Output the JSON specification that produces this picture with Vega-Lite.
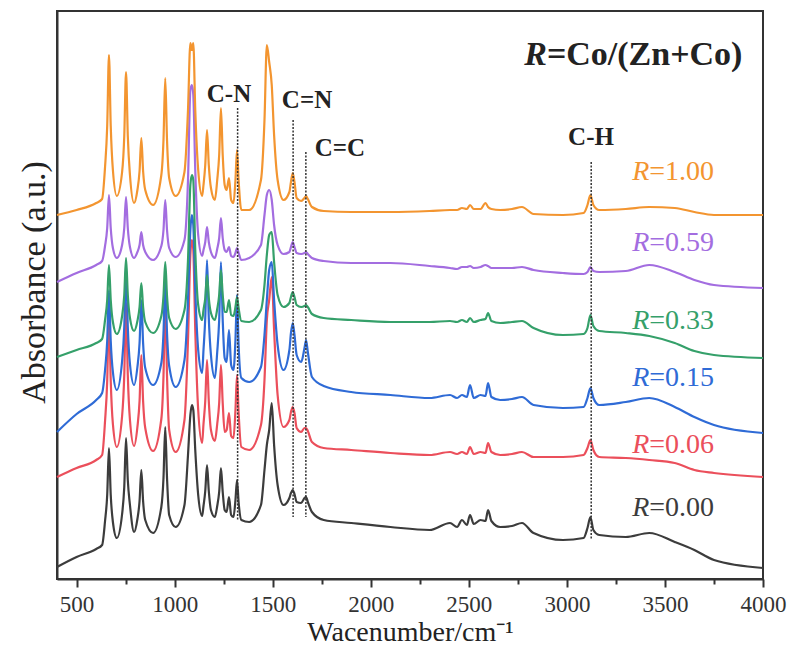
{
"$schema":"https://vega.github.io/schema/vega-lite/v6.json",
"width":706,"height":568,
"autosize":{"type":"none"},
"padding":{"left":57,"top":11,"right":28,"bottom":78},
"background":"white",
"config":{
"view":{"stroke":"#333333","strokeWidth":2},
"font":"Liberation Serif",
"axis":{"labelFont":"Liberation Serif","titleFont":"Liberation Serif","grid":false,"domainColor":"#333333","domainWidth":2,"tickColor":"#333333","tickWidth":2,"labelColor":"#333333","titleColor":"#222222","titleFontWeight":"normal"},
"text":{"font":"Liberation Serif"}
},
"datasets":{
"spectra":[
{"r":"0.00","wn":400,"ab":12},{"r":"0.00","wn":500,"ab":22},{"r":"0.00","wn":600,"ab":30},{"r":"0.00","wn":630,"ab":34},{"r":"0.00","wn":645,"ab":58},{"r":"0.00","wn":656,"ab":84},{"r":"0.00","wn":665,"ab":131},{"r":"0.00","wn":674,"ab":84},{"r":"0.00","wn":685,"ab":57},{"r":"0.00","wn":705,"ab":41},
{"r":"0.00","wn":732,"ab":65},{"r":"0.00","wn":743,"ab":92},{"r":"0.00","wn":752,"ab":141},{"r":"0.00","wn":761,"ab":99},{"r":"0.00","wn":772,"ab":74},{"r":"0.00","wn":793,"ab":47},{"r":"0.00","wn":810,"ab":60},{"r":"0.00","wn":821,"ab":78},{"r":"0.00","wn":830,"ab":109},{"r":"0.00","wn":839,"ab":78},
{"r":"0.00","wn":850,"ab":59},{"r":"0.00","wn":890,"ab":46},{"r":"0.00","wn":932,"ab":72},{"r":"0.00","wn":943,"ab":101},{"r":"0.00","wn":952,"ab":152},{"r":"0.00","wn":961,"ab":101},{"r":"0.00","wn":972,"ab":64},{"r":"0.00","wn":1005,"ab":52},{"r":"0.00","wn":1050,"ab":74},{"r":"0.00","wn":1068,"ab":124},
{"r":"0.00","wn":1080,"ab":164},{"r":"0.00","wn":1088,"ab":174},{"r":"0.00","wn":1095,"ab":169},{"r":"0.00","wn":1105,"ab":129},{"r":"0.00","wn":1120,"ab":84},{"r":"0.00","wn":1140,"ab":63},{"r":"0.00","wn":1147,"ab":73},{"r":"0.00","wn":1156,"ab":88},{"r":"0.00","wn":1165,"ab":114},{"r":"0.00","wn":1174,"ab":88},
{"r":"0.00","wn":1185,"ab":69},{"r":"0.00","wn":1205,"ab":62},{"r":"0.00","wn":1217,"ab":73},{"r":"0.00","wn":1227,"ab":87},{"r":"0.00","wn":1236,"ab":111},{"r":"0.00","wn":1245,"ab":87},{"r":"0.00","wn":1255,"ab":69},{"r":"0.00","wn":1265,"ab":67},{"r":"0.00","wn":1277,"ab":82},{"r":"0.00","wn":1288,"ab":64},
{"r":"0.00","wn":1300,"ab":62},{"r":"0.00","wn":1310,"ab":79},{"r":"0.00","wn":1318,"ab":99},{"r":"0.00","wn":1326,"ab":77},{"r":"0.00","wn":1340,"ab":59},{"r":"0.00","wn":1380,"ab":57},{"r":"0.00","wn":1440,"ab":74},{"r":"0.00","wn":1458,"ab":109},{"r":"0.00","wn":1470,"ab":134},{"r":"0.00","wn":1482,"ab":149},
{"r":"0.00","wn":1495,"ab":176},{"r":"0.00","wn":1507,"ab":134},{"r":"0.00","wn":1525,"ab":94},{"r":"0.00","wn":1555,"ab":74},{"r":"0.00","wn":1585,"ab":81},{"r":"0.00","wn":1593,"ab":86},{"r":"0.00","wn":1602,"ab":89},{"r":"0.00","wn":1611,"ab":85},{"r":"0.00","wn":1622,"ab":77},{"r":"0.00","wn":1645,"ab":76},
{"r":"0.00","wn":1662,"ab":81},{"r":"0.00","wn":1670,"ab":82},{"r":"0.00","wn":1679,"ab":77},{"r":"0.00","wn":1700,"ab":67},{"r":"0.00","wn":1760,"ab":59},{"r":"0.00","wn":1900,"ab":56},{"r":"0.00","wn":2100,"ab":52},
{"r":"0.00","wn":2300,"ab":49},{"r":"0.00","wn":2404,"ab":56},{"r":"0.00","wn":2440,"ab":52},{"r":"0.00","wn":2465,"ab":59},{"r":"0.00","wn":2490,"ab":54},{"r":"0.00","wn":2506,"ab":64},{"r":"0.00","wn":2525,"ab":55},{"r":"0.00","wn":2560,"ab":59},{"r":"0.00","wn":2585,"ab":58},{"r":"0.00","wn":2598,"ab":69},{"r":"0.00","wn":2615,"ab":58},{"r":"0.00","wn":2660,"ab":52},{"r":"0.00","wn":2720,"ab":53},{"r":"0.00","wn":2771,"ab":56},{"r":"0.00","wn":2830,"ab":46},
{"r":"0.00","wn":2980,"ab":39},{"r":"0.00","wn":3085,"ab":41},{"r":"0.00","wn":3105,"ab":51},{"r":"0.00","wn":3120,"ab":62},{"r":"0.00","wn":3135,"ab":49},{"r":"0.00","wn":3165,"ab":44},{"r":"0.00","wn":3300,"ab":42},{"r":"0.00","wn":3420,"ab":46},{"r":"0.00","wn":3550,"ab":37},{"r":"0.00","wn":3650,"ab":29},{"r":"0.00","wn":3750,"ab":19},{"r":"0.00","wn":4000,"ab":11},

{"r":"0.06","wn":400,"ab":102},{"r":"0.06","wn":500,"ab":111},{"r":"0.06","wn":600,"ab":119},{"r":"0.06","wn":630,"ab":124},{"r":"0.06","wn":645,"ab":158},{"r":"0.06","wn":656,"ab":198},{"r":"0.06","wn":665,"ab":269},{"r":"0.06","wn":674,"ab":198},{"r":"0.06","wn":685,"ab":155},{"r":"0.06","wn":705,"ab":132},
{"r":"0.06","wn":732,"ab":163},{"r":"0.06","wn":743,"ab":204},{"r":"0.06","wn":752,"ab":276},{"r":"0.06","wn":761,"ab":204},{"r":"0.06","wn":772,"ab":159},{"r":"0.06","wn":793,"ab":133},{"r":"0.06","wn":810,"ab":152},{"r":"0.06","wn":821,"ab":178},{"r":"0.06","wn":830,"ab":224},{"r":"0.06","wn":839,"ab":178},
{"r":"0.06","wn":850,"ab":151},{"r":"0.06","wn":890,"ab":128},{"r":"0.06","wn":932,"ab":160},{"r":"0.06","wn":943,"ab":203},{"r":"0.06","wn":952,"ab":279},{"r":"0.06","wn":961,"ab":203},{"r":"0.06","wn":972,"ab":149},{"r":"0.06","wn":1005,"ab":127},{"r":"0.06","wn":1050,"ab":159},{"r":"0.06","wn":1068,"ab":239},
{"r":"0.06","wn":1080,"ab":324},{"r":"0.06","wn":1088,"ab":339},{"r":"0.06","wn":1095,"ab":329},{"r":"0.06","wn":1105,"ab":249},{"r":"0.06","wn":1120,"ab":169},{"r":"0.06","wn":1140,"ab":136},{"r":"0.06","wn":1147,"ab":155},{"r":"0.06","wn":1156,"ab":178},{"r":"0.06","wn":1165,"ab":219},{"r":"0.06","wn":1174,"ab":178},
{"r":"0.06","wn":1185,"ab":149},{"r":"0.06","wn":1205,"ab":138},{"r":"0.06","wn":1217,"ab":155},{"r":"0.06","wn":1227,"ab":176},{"r":"0.06","wn":1236,"ab":214},{"r":"0.06","wn":1245,"ab":176},{"r":"0.06","wn":1255,"ab":147},{"r":"0.06","wn":1265,"ab":149},{"r":"0.06","wn":1277,"ab":166},{"r":"0.06","wn":1288,"ab":143},
{"r":"0.06","wn":1300,"ab":141},{"r":"0.06","wn":1310,"ab":169},{"r":"0.06","wn":1318,"ab":204},{"r":"0.06","wn":1326,"ab":167},{"r":"0.06","wn":1340,"ab":132},{"r":"0.06","wn":1380,"ab":129},{"r":"0.06","wn":1440,"ab":154},{"r":"0.06","wn":1458,"ab":199},{"r":"0.06","wn":1470,"ab":259},{"r":"0.06","wn":1482,"ab":279},
{"r":"0.06","wn":1495,"ab":302},{"r":"0.06","wn":1507,"ab":249},{"r":"0.06","wn":1525,"ab":184},{"r":"0.06","wn":1555,"ab":152},{"r":"0.06","wn":1585,"ab":159},{"r":"0.06","wn":1593,"ab":167},{"r":"0.06","wn":1602,"ab":172},{"r":"0.06","wn":1611,"ab":166},{"r":"0.06","wn":1622,"ab":151},{"r":"0.06","wn":1645,"ab":147},
{"r":"0.06","wn":1662,"ab":151},{"r":"0.06","wn":1670,"ab":151},{"r":"0.06","wn":1679,"ab":148},{"r":"0.06","wn":1700,"ab":137},{"r":"0.06","wn":1760,"ab":131},{"r":"0.06","wn":1900,"ab":129},{"r":"0.06","wn":2100,"ab":126},
{"r":"0.06","wn":2300,"ab":124},{"r":"0.06","wn":2404,"ab":127},{"r":"0.06","wn":2440,"ab":125},{"r":"0.06","wn":2465,"ab":127},{"r":"0.06","wn":2490,"ab":125},{"r":"0.06","wn":2506,"ab":132},{"r":"0.06","wn":2525,"ab":125},{"r":"0.06","wn":2560,"ab":127},{"r":"0.06","wn":2585,"ab":126},{"r":"0.06","wn":2598,"ab":136},{"r":"0.06","wn":2615,"ab":127},{"r":"0.06","wn":2660,"ab":124},{"r":"0.06","wn":2720,"ab":125},{"r":"0.06","wn":2771,"ab":127},{"r":"0.06","wn":2830,"ab":122},
{"r":"0.06","wn":2980,"ab":122},{"r":"0.06","wn":3085,"ab":124},{"r":"0.06","wn":3105,"ab":131},{"r":"0.06","wn":3120,"ab":139},{"r":"0.06","wn":3135,"ab":129},{"r":"0.06","wn":3165,"ab":122},{"r":"0.06","wn":3300,"ab":121},{"r":"0.06","wn":3420,"ab":119},{"r":"0.06","wn":3550,"ab":116},{"r":"0.06","wn":3650,"ab":109},{"r":"0.06","wn":3750,"ab":106},{"r":"0.06","wn":4000,"ab":102},

{"r":"0.15","wn":400,"ab":147},{"r":"0.15","wn":500,"ab":165},{"r":"0.15","wn":600,"ab":179},{"r":"0.15","wn":630,"ab":186},{"r":"0.15","wn":645,"ab":209},{"r":"0.15","wn":656,"ab":238},{"r":"0.15","wn":665,"ab":289},{"r":"0.15","wn":674,"ab":238},{"r":"0.15","wn":685,"ab":207},{"r":"0.15","wn":705,"ab":189},
{"r":"0.15","wn":732,"ab":218},{"r":"0.15","wn":743,"ab":252},{"r":"0.15","wn":752,"ab":314},{"r":"0.15","wn":761,"ab":252},{"r":"0.15","wn":772,"ab":215},{"r":"0.15","wn":793,"ab":194},{"r":"0.15","wn":810,"ab":212},{"r":"0.15","wn":821,"ab":236},{"r":"0.15","wn":830,"ab":279},{"r":"0.15","wn":839,"ab":236},
{"r":"0.15","wn":850,"ab":211},{"r":"0.15","wn":890,"ab":194},{"r":"0.15","wn":932,"ab":216},{"r":"0.15","wn":943,"ab":246},{"r":"0.15","wn":952,"ab":299},{"r":"0.15","wn":961,"ab":246},{"r":"0.15","wn":972,"ab":213},{"r":"0.15","wn":1005,"ab":192},{"r":"0.15","wn":1050,"ab":219},{"r":"0.15","wn":1068,"ab":279},
{"r":"0.15","wn":1080,"ab":349},{"r":"0.15","wn":1088,"ab":364},{"r":"0.15","wn":1095,"ab":354},{"r":"0.15","wn":1105,"ab":289},{"r":"0.15","wn":1120,"ab":229},{"r":"0.15","wn":1140,"ab":206},{"r":"0.15","wn":1147,"ab":229},{"r":"0.15","wn":1156,"ab":261},{"r":"0.15","wn":1165,"ab":319},{"r":"0.15","wn":1174,"ab":261},
{"r":"0.15","wn":1185,"ab":224},{"r":"0.15","wn":1205,"ab":201},{"r":"0.15","wn":1217,"ab":227},{"r":"0.15","wn":1227,"ab":259},{"r":"0.15","wn":1236,"ab":317},{"r":"0.15","wn":1245,"ab":259},{"r":"0.15","wn":1255,"ab":221},{"r":"0.15","wn":1265,"ab":217},{"r":"0.15","wn":1277,"ab":249},{"r":"0.15","wn":1288,"ab":214},
{"r":"0.15","wn":1300,"ab":209},{"r":"0.15","wn":1310,"ab":239},{"r":"0.15","wn":1318,"ab":284},{"r":"0.15","wn":1326,"ab":234},{"r":"0.15","wn":1340,"ab":201},{"r":"0.15","wn":1380,"ab":197},{"r":"0.15","wn":1440,"ab":212},{"r":"0.15","wn":1458,"ab":244},{"r":"0.15","wn":1470,"ab":279},{"r":"0.15","wn":1482,"ab":309},
{"r":"0.15","wn":1495,"ab":317},{"r":"0.15","wn":1507,"ab":279},{"r":"0.15","wn":1525,"ab":234},{"r":"0.15","wn":1555,"ab":209},{"r":"0.15","wn":1585,"ab":229},{"r":"0.15","wn":1593,"ab":246},{"r":"0.15","wn":1602,"ab":256},{"r":"0.15","wn":1611,"ab":244},{"r":"0.15","wn":1622,"ab":224},{"r":"0.15","wn":1645,"ab":217},
{"r":"0.15","wn":1662,"ab":231},{"r":"0.15","wn":1670,"ab":239},{"r":"0.15","wn":1679,"ab":227},{"r":"0.15","wn":1700,"ab":202},{"r":"0.15","wn":1760,"ab":193},{"r":"0.15","wn":1900,"ab":187},{"r":"0.15","wn":2100,"ab":184},
{"r":"0.15","wn":2300,"ab":181},{"r":"0.15","wn":2404,"ab":184},{"r":"0.15","wn":2440,"ab":181},{"r":"0.15","wn":2465,"ab":184},{"r":"0.15","wn":2490,"ab":182},{"r":"0.15","wn":2506,"ab":194},{"r":"0.15","wn":2525,"ab":181},{"r":"0.15","wn":2560,"ab":184},{"r":"0.15","wn":2585,"ab":183},{"r":"0.15","wn":2598,"ab":196},{"r":"0.15","wn":2615,"ab":182},{"r":"0.15","wn":2660,"ab":179},{"r":"0.15","wn":2720,"ab":180},{"r":"0.15","wn":2771,"ab":182},{"r":"0.15","wn":2830,"ab":174},
{"r":"0.15","wn":2980,"ab":171},{"r":"0.15","wn":3085,"ab":172},{"r":"0.15","wn":3105,"ab":181},{"r":"0.15","wn":3120,"ab":191},{"r":"0.15","wn":3135,"ab":181},{"r":"0.15","wn":3165,"ab":174},{"r":"0.15","wn":3300,"ab":177},{"r":"0.15","wn":3420,"ab":181},{"r":"0.15","wn":3550,"ab":172},{"r":"0.15","wn":3650,"ab":162},{"r":"0.15","wn":3750,"ab":154},{"r":"0.15","wn":4000,"ab":146},

{"r":"0.33","wn":400,"ab":222},{"r":"0.33","wn":500,"ab":229},{"r":"0.33","wn":600,"ab":236},{"r":"0.33","wn":630,"ab":240},{"r":"0.33","wn":645,"ab":259},{"r":"0.33","wn":656,"ab":279},{"r":"0.33","wn":665,"ab":314},{"r":"0.33","wn":674,"ab":279},{"r":"0.33","wn":685,"ab":257},{"r":"0.33","wn":705,"ab":245},
{"r":"0.33","wn":732,"ab":263},{"r":"0.33","wn":743,"ab":284},{"r":"0.33","wn":752,"ab":321},{"r":"0.33","wn":761,"ab":284},{"r":"0.33","wn":772,"ab":261},{"r":"0.33","wn":793,"ab":248},{"r":"0.33","wn":810,"ab":258},{"r":"0.33","wn":821,"ab":272},{"r":"0.33","wn":830,"ab":296},{"r":"0.33","wn":839,"ab":272},
{"r":"0.33","wn":850,"ab":257},{"r":"0.33","wn":890,"ab":246},{"r":"0.33","wn":932,"ab":263},{"r":"0.33","wn":943,"ab":283},{"r":"0.33","wn":952,"ab":317},{"r":"0.33","wn":961,"ab":283},{"r":"0.33","wn":972,"ab":261},{"r":"0.33","wn":1005,"ab":250},{"r":"0.33","wn":1050,"ab":269},{"r":"0.33","wn":1068,"ab":319},
{"r":"0.33","wn":1080,"ab":394},{"r":"0.33","wn":1088,"ab":404},{"r":"0.33","wn":1095,"ab":399},{"r":"0.33","wn":1105,"ab":329},{"r":"0.33","wn":1120,"ab":274},{"r":"0.33","wn":1140,"ab":259},{"r":"0.33","wn":1147,"ab":269},{"r":"0.33","wn":1156,"ab":281},{"r":"0.33","wn":1165,"ab":304},{"r":"0.33","wn":1174,"ab":281},
{"r":"0.33","wn":1185,"ab":266},{"r":"0.33","wn":1205,"ab":259},{"r":"0.33","wn":1217,"ab":270},{"r":"0.33","wn":1227,"ab":284},{"r":"0.33","wn":1236,"ab":309},{"r":"0.33","wn":1245,"ab":284},{"r":"0.33","wn":1255,"ab":267},{"r":"0.33","wn":1265,"ab":267},{"r":"0.33","wn":1277,"ab":279},{"r":"0.33","wn":1288,"ab":264},
{"r":"0.33","wn":1300,"ab":263},{"r":"0.33","wn":1310,"ab":272},{"r":"0.33","wn":1318,"ab":282},{"r":"0.33","wn":1326,"ab":271},{"r":"0.33","wn":1340,"ab":258},{"r":"0.33","wn":1380,"ab":257},{"r":"0.33","wn":1440,"ab":269},{"r":"0.33","wn":1458,"ab":294},{"r":"0.33","wn":1470,"ab":324},{"r":"0.33","wn":1482,"ab":344},
{"r":"0.33","wn":1495,"ab":347},{"r":"0.33","wn":1507,"ab":317},{"r":"0.33","wn":1525,"ab":284},{"r":"0.33","wn":1555,"ab":272},{"r":"0.33","wn":1585,"ab":276},{"r":"0.33","wn":1593,"ab":282},{"r":"0.33","wn":1602,"ab":287},{"r":"0.33","wn":1611,"ab":282},{"r":"0.33","wn":1622,"ab":274},{"r":"0.33","wn":1645,"ab":272},
{"r":"0.33","wn":1662,"ab":273},{"r":"0.33","wn":1670,"ab":274},{"r":"0.33","wn":1679,"ab":272},{"r":"0.33","wn":1700,"ab":265},{"r":"0.33","wn":1760,"ab":261},{"r":"0.33","wn":1900,"ab":259},{"r":"0.33","wn":2100,"ab":257},
{"r":"0.33","wn":2300,"ab":257},{"r":"0.33","wn":2404,"ab":258},{"r":"0.33","wn":2440,"ab":257},{"r":"0.33","wn":2465,"ab":259},{"r":"0.33","wn":2490,"ab":257},{"r":"0.33","wn":2506,"ab":261},{"r":"0.33","wn":2525,"ab":257},{"r":"0.33","wn":2560,"ab":259},{"r":"0.33","wn":2585,"ab":260},{"r":"0.33","wn":2598,"ab":266},{"r":"0.33","wn":2615,"ab":258},{"r":"0.33","wn":2660,"ab":256},{"r":"0.33","wn":2720,"ab":257},{"r":"0.33","wn":2771,"ab":258},{"r":"0.33","wn":2830,"ab":251},
{"r":"0.33","wn":2980,"ab":244},{"r":"0.33","wn":3085,"ab":245},{"r":"0.33","wn":3105,"ab":251},{"r":"0.33","wn":3120,"ab":264},{"r":"0.33","wn":3135,"ab":253},{"r":"0.33","wn":3165,"ab":248},{"r":"0.33","wn":3300,"ab":246},{"r":"0.33","wn":3420,"ab":243},{"r":"0.33","wn":3550,"ab":236},{"r":"0.33","wn":3650,"ab":228},{"r":"0.33","wn":3750,"ab":224},{"r":"0.33","wn":4000,"ab":221},

{"r":"0.59","wn":400,"ab":297},{"r":"0.59","wn":500,"ab":306},{"r":"0.59","wn":600,"ab":314},{"r":"0.59","wn":630,"ab":318},{"r":"0.59","wn":645,"ab":333},{"r":"0.59","wn":656,"ab":351},{"r":"0.59","wn":665,"ab":384},{"r":"0.59","wn":674,"ab":351},{"r":"0.59","wn":685,"ab":331},{"r":"0.59","wn":705,"ab":321},
{"r":"0.59","wn":732,"ab":334},{"r":"0.59","wn":743,"ab":351},{"r":"0.59","wn":752,"ab":382},{"r":"0.59","wn":761,"ab":351},{"r":"0.59","wn":772,"ab":332},{"r":"0.59","wn":793,"ab":321},{"r":"0.59","wn":810,"ab":327},{"r":"0.59","wn":821,"ab":334},{"r":"0.59","wn":830,"ab":347},{"r":"0.59","wn":839,"ab":334},
{"r":"0.59","wn":850,"ab":327},{"r":"0.59","wn":890,"ab":319},{"r":"0.59","wn":932,"ab":333},{"r":"0.59","wn":943,"ab":349},{"r":"0.59","wn":952,"ab":379},{"r":"0.59","wn":961,"ab":349},{"r":"0.59","wn":972,"ab":331},{"r":"0.59","wn":1005,"ab":322},{"r":"0.59","wn":1050,"ab":339},{"r":"0.59","wn":1068,"ab":399},
{"r":"0.59","wn":1080,"ab":489},{"r":"0.59","wn":1088,"ab":494},{"r":"0.59","wn":1095,"ab":484},{"r":"0.59","wn":1105,"ab":409},{"r":"0.59","wn":1120,"ab":344},{"r":"0.59","wn":1140,"ab":323},{"r":"0.59","wn":1147,"ab":329},{"r":"0.59","wn":1156,"ab":337},{"r":"0.59","wn":1165,"ab":352},{"r":"0.59","wn":1174,"ab":337},
{"r":"0.59","wn":1185,"ab":327},{"r":"0.59","wn":1205,"ab":321},{"r":"0.59","wn":1217,"ab":330},{"r":"0.59","wn":1227,"ab":341},{"r":"0.59","wn":1236,"ab":361},{"r":"0.59","wn":1245,"ab":341},{"r":"0.59","wn":1255,"ab":329},{"r":"0.59","wn":1265,"ab":327},{"r":"0.59","wn":1277,"ab":332},{"r":"0.59","wn":1288,"ab":323},
{"r":"0.59","wn":1300,"ab":322},{"r":"0.59","wn":1310,"ab":326},{"r":"0.59","wn":1318,"ab":331},{"r":"0.59","wn":1326,"ab":326},{"r":"0.59","wn":1340,"ab":319},{"r":"0.59","wn":1380,"ab":321},{"r":"0.59","wn":1440,"ab":334},{"r":"0.59","wn":1458,"ab":364},{"r":"0.59","wn":1470,"ab":384},{"r":"0.59","wn":1482,"ab":389},
{"r":"0.59","wn":1495,"ab":379},{"r":"0.59","wn":1507,"ab":354},{"r":"0.59","wn":1525,"ab":334},{"r":"0.59","wn":1555,"ab":325},{"r":"0.59","wn":1585,"ab":327},{"r":"0.59","wn":1593,"ab":332},{"r":"0.59","wn":1602,"ab":337},{"r":"0.59","wn":1611,"ab":332},{"r":"0.59","wn":1622,"ab":326},{"r":"0.59","wn":1645,"ab":325},
{"r":"0.59","wn":1662,"ab":326},{"r":"0.59","wn":1670,"ab":327},{"r":"0.59","wn":1679,"ab":325},{"r":"0.59","wn":1700,"ab":321},{"r":"0.59","wn":1760,"ab":318},{"r":"0.59","wn":1900,"ab":316},{"r":"0.59","wn":2100,"ab":316},
{"r":"0.59","wn":2300,"ab":313},{"r":"0.59","wn":2404,"ab":311},{"r":"0.59","wn":2440,"ab":310},{"r":"0.59","wn":2465,"ab":312},{"r":"0.59","wn":2490,"ab":312},{"r":"0.59","wn":2506,"ab":313},{"r":"0.59","wn":2525,"ab":311},{"r":"0.59","wn":2560,"ab":312},{"r":"0.59","wn":2585,"ab":314},{"r":"0.59","wn":2598,"ab":313},{"r":"0.59","wn":2615,"ab":311},{"r":"0.59","wn":2660,"ab":311},{"r":"0.59","wn":2720,"ab":311},{"r":"0.59","wn":2771,"ab":312},{"r":"0.59","wn":2830,"ab":309},
{"r":"0.59","wn":2980,"ab":306},{"r":"0.59","wn":3085,"ab":305},{"r":"0.59","wn":3105,"ab":307},{"r":"0.59","wn":3120,"ab":312},{"r":"0.59","wn":3135,"ab":308},{"r":"0.59","wn":3165,"ab":307},{"r":"0.59","wn":3300,"ab":308},{"r":"0.59","wn":3420,"ab":314},{"r":"0.59","wn":3550,"ab":307},{"r":"0.59","wn":3650,"ab":299},{"r":"0.59","wn":3750,"ab":294},{"r":"0.59","wn":4000,"ab":291},

{"r":"1.00","wn":400,"ab":364},{"r":"1.00","wn":500,"ab":369},{"r":"1.00","wn":600,"ab":376},{"r":"1.00","wn":630,"ab":380},{"r":"1.00","wn":645,"ab":412},{"r":"1.00","wn":656,"ab":453},{"r":"1.00","wn":665,"ab":524},{"r":"1.00","wn":674,"ab":453},{"r":"1.00","wn":685,"ab":409},{"r":"1.00","wn":705,"ab":383},
{"r":"1.00","wn":732,"ab":407},{"r":"1.00","wn":743,"ab":443},{"r":"1.00","wn":752,"ab":507},{"r":"1.00","wn":761,"ab":443},{"r":"1.00","wn":772,"ab":404},{"r":"1.00","wn":793,"ab":376},{"r":"1.00","wn":810,"ab":389},{"r":"1.00","wn":821,"ab":408},{"r":"1.00","wn":830,"ab":441},{"r":"1.00","wn":839,"ab":408},
{"r":"1.00","wn":850,"ab":389},{"r":"1.00","wn":890,"ab":374},{"r":"1.00","wn":932,"ab":404},{"r":"1.00","wn":943,"ab":439},{"r":"1.00","wn":952,"ab":501},{"r":"1.00","wn":961,"ab":439},{"r":"1.00","wn":972,"ab":401},{"r":"1.00","wn":1005,"ab":383},{"r":"1.00","wn":1050,"ab":407},{"r":"1.00","wn":1068,"ab":469},
{"r":"1.00","wn":1080,"ab":536},{"r":"1.00","wn":1088,"ab":529},{"r":"1.00","wn":1095,"ab":536},{"r":"1.00","wn":1105,"ab":469},{"r":"1.00","wn":1120,"ab":409},{"r":"1.00","wn":1140,"ab":383},{"r":"1.00","wn":1147,"ab":394},{"r":"1.00","wn":1156,"ab":414},{"r":"1.00","wn":1165,"ab":449},{"r":"1.00","wn":1174,"ab":414},
{"r":"1.00","wn":1185,"ab":391},{"r":"1.00","wn":1205,"ab":379},{"r":"1.00","wn":1217,"ab":399},{"r":"1.00","wn":1227,"ab":424},{"r":"1.00","wn":1236,"ab":471},{"r":"1.00","wn":1245,"ab":424},{"r":"1.00","wn":1255,"ab":394},{"r":"1.00","wn":1265,"ab":389},{"r":"1.00","wn":1277,"ab":401},{"r":"1.00","wn":1288,"ab":379},
{"r":"1.00","wn":1300,"ab":376},{"r":"1.00","wn":1310,"ab":399},{"r":"1.00","wn":1318,"ab":429},{"r":"1.00","wn":1326,"ab":399},{"r":"1.00","wn":1340,"ab":369},{"r":"1.00","wn":1380,"ab":369},{"r":"1.00","wn":1440,"ab":399},{"r":"1.00","wn":1458,"ab":459},{"r":"1.00","wn":1470,"ab":534},{"r":"1.00","wn":1482,"ab":517},
{"r":"1.00","wn":1495,"ab":494},{"r":"1.00","wn":1507,"ab":444},{"r":"1.00","wn":1525,"ab":399},{"r":"1.00","wn":1555,"ab":379},{"r":"1.00","wn":1585,"ab":387},{"r":"1.00","wn":1593,"ab":397},{"r":"1.00","wn":1602,"ab":406},{"r":"1.00","wn":1611,"ab":397},{"r":"1.00","wn":1622,"ab":381},{"r":"1.00","wn":1645,"ab":378},
{"r":"1.00","wn":1662,"ab":381},{"r":"1.00","wn":1670,"ab":383},{"r":"1.00","wn":1679,"ab":380},{"r":"1.00","wn":1700,"ab":372},{"r":"1.00","wn":1760,"ab":368},{"r":"1.00","wn":1900,"ab":367},{"r":"1.00","wn":2100,"ab":367},
{"r":"1.00","wn":2300,"ab":368},{"r":"1.00","wn":2404,"ab":369},{"r":"1.00","wn":2440,"ab":369},{"r":"1.00","wn":2465,"ab":371},{"r":"1.00","wn":2490,"ab":370},{"r":"1.00","wn":2506,"ab":374},{"r":"1.00","wn":2525,"ab":370},{"r":"1.00","wn":2560,"ab":370},{"r":"1.00","wn":2585,"ab":376},{"r":"1.00","wn":2598,"ab":372},{"r":"1.00","wn":2615,"ab":370},{"r":"1.00","wn":2660,"ab":369},{"r":"1.00","wn":2720,"ab":370},{"r":"1.00","wn":2771,"ab":372},{"r":"1.00","wn":2830,"ab":365},
{"r":"1.00","wn":2980,"ab":364},{"r":"1.00","wn":3085,"ab":366},{"r":"1.00","wn":3105,"ab":374},{"r":"1.00","wn":3120,"ab":384},{"r":"1.00","wn":3135,"ab":374},{"r":"1.00","wn":3165,"ab":369},{"r":"1.00","wn":3300,"ab":370},{"r":"1.00","wn":3420,"ab":372},{"r":"1.00","wn":3550,"ab":371},{"r":"1.00","wn":3650,"ab":367},{"r":"1.00","wn":3750,"ab":364},{"r":"1.00","wn":4000,"ab":364}
],
"bands":[
{"wn":1321,"ab":471,"ab2":59},{"wn":1604,"ab":459,"ab2":62},{"wn":1669,"ab":427,"ab2":62},{"wn":3124,"ab":417,"ab2":39}
],
"notes":[
{"t":"C-N","wn":1277,"ab":485},{"t":"C=N","wn":1675,"ab":479},{"t":"C=C","wn":1843,"ab":431},{"t":"C-H","wn":3123,"ab":442}
],
"labels":[
{"r":"1.00","t":"=1.00","wn":3420,"ab":407},{"r":"0.59","t":"=0.59","wn":3420,"ab":336},{"r":"0.33","t":"=0.33","wn":3420,"ab":258},{"r":"0.15","t":"=0.15","wn":3420,"ab":201},{"r":"0.06","t":"=0.06","wn":3420,"ab":134},{"r":"0.00","t":"=0.00","wn":3420,"ab":71}
],
"heading":[
{"t":"=Co/(Zn+Co)","wn":2898,"ab":524}
]
},
"layer":[
{"data":{"name":"spectra"},
"mark":{"type":"line","interpolate":"monotone","strokeWidth":2.2},
"encoding":{
"x":{"field":"wn","type":"quantitative","scale":{"domain":[400,4000],"nice":false,"zero":false},
"axis":{"orient":"bottom","values":[500,1000,1500,2000,2500,3000,3500,4000],"format":"d","tickSize":8,"labelFontSize":23,"labelPadding":6,"labelFlush":false,"labelOverlap":false,"title":"Wacenumber/cm⁻¹","titleFontSize":28,"titlePadding":2}},
"y":{"field":"ab","type":"quantitative","scale":{"domain":[0,568],"nice":false,"zero":false},
"axis":{"labels":false,"ticks":false,"title":"Absorbance (a.u.)","titleFontSize":34,"titlePadding":6,"titleY":271}},
"color":{"field":"r","type":"nominal","scale":{"domain":["0.00","0.06","0.15","0.33","0.59","1.00"],"range":["#3c3c3c","#eb4f5b","#2f6bd6","#35a06a","#a36de0","#f39530"]},"legend":null}
}},
{"data":{"name":"bands"},
"mark":{"type":"rule","strokeDash":[2,1.5],"strokeWidth":1.5,"color":"#333333"},
"encoding":{
"x":{"field":"wn","type":"quantitative","scale":{"domain":[400,4000],"nice":false,"zero":false},
"axis":{"orient":"bottom","values":[750,1250,1750,2250,2750,3250,3750],"labels":false,"tickSize":5,"domain":false,"title":null}},
"y":{"field":"ab","type":"quantitative","axis":null},
"y2":{"field":"ab2"}
}},
{"data":{"name":"notes"},
"mark":{"type":"text","fontWeight":"bold","fontSize":25,"color":"#222222","align":"center","baseline":"middle"},
"encoding":{
"x":{"field":"wn","type":"quantitative","axis":null},
"y":{"field":"ab","type":"quantitative","axis":null},
"text":{"field":"t"}
}},
{"data":{"name":"labels"},
"mark":{"type":"text","fontStyle":"italic","fontSize":28,"align":"right","baseline":"middle"},
"encoding":{
"x":{"field":"wn","type":"quantitative","axis":null},
"y":{"field":"ab","type":"quantitative","axis":null},
"text":{"value":"R"},
"color":{"field":"r","type":"nominal","legend":null}
}},
{"data":{"name":"labels"},
"mark":{"type":"text","fontSize":28,"align":"left","baseline":"middle"},
"encoding":{
"x":{"field":"wn","type":"quantitative","axis":null},
"y":{"field":"ab","type":"quantitative","axis":null},
"text":{"field":"t"},
"color":{"field":"r","type":"nominal","legend":null}
}},
{"data":{"name":"heading"},
"mark":{"type":"text","fontStyle":"italic","fontWeight":"bold","fontSize":34,"align":"right","baseline":"middle","color":"#222222"},
"encoding":{
"x":{"field":"wn","type":"quantitative","axis":null},
"y":{"field":"ab","type":"quantitative","axis":null},
"text":{"value":"R"}
}},
{"data":{"name":"heading"},
"mark":{"type":"text","fontWeight":"bold","fontSize":34,"align":"left","baseline":"middle","color":"#222222"},
"encoding":{
"x":{"field":"wn","type":"quantitative","axis":null},
"y":{"field":"ab","type":"quantitative","axis":null},
"text":{"field":"t"}
}}
],
"resolve":{"axis":{"x":"independent","y":"independent"}}
}
